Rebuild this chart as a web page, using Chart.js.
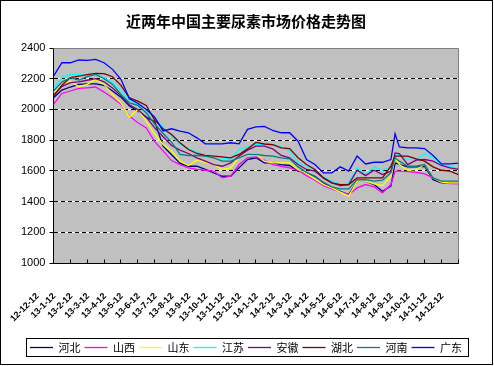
<!DOCTYPE html>
<html>
<head>
<meta charset="utf-8">
<script src="https://cdn.jsdelivr.net/npm/chart.js@4"></script>
<style>
  html, body { margin: 0; padding: 0; background: #fff; }
</style>
</head>
<body>
<canvas id="c" width="494" height="366"></canvas>
<script>
// x positions in half-month steps (0 = 12-12-12, 48 = 14-12-12)
const pos = [0,1,2,3,4,5,6,7,8,9,10,11,12,13,14,15,16,17,18,19,20,21,22,23,24,25,26,27,28,29,30,31,32,33,34,35,36,37,38,39,40,40.5,41,42,43,44,45,46,47,48]

const monthLabels = ['12-12-12','13-1-12','13-2-12','13-3-12','13-4-12','13-5-12','13-6-12','13-7-12','13-8-12','13-9-12','13-10-12','13-11-12','13-12-12',
  '14-1-12','14-2-12','14-3-12','14-4-12','14-5-12','14-6-12','14-7-12','14-8-12','14-9-12','14-10-12','14-11-12','14-12-12']

const yTicks = [1000, 1200, 1400, 1600, 1800, 2000, 2200, 2400]

const names = ['河北', '山西', '山东', '江苏', '安徽', '湖北', '河南', '广东']

const hebei = [2076,2126,2146,2163,2167,2167,2157,2120,2080,2022,1990,1950,1920,1761,1705,1650,1630,1630,1609,1587,1565,1565,1620,1674,1685,1652,1652,1641,1635,1598,1587,1565,1522,1489,1467,1446,1533,1533,1511,1467,1500,1652,1641,1626,1626,1630,1543,1522,1522,1522]
const shanxi = [2033,2104,2120,2137,2141,2146,2113,2076,2033,1957,1913,1880,1790,1730,1667,1641,1620,1609,1604,1598,1554,1565,1641,1685,1691,1670,1641,1630,1620,1604,1569,1539,1504,1483,1463,1446,1489,1511,1496,1457,1511,1598,1598,1595,1590,1580,1554,1526,1517,1515]
const shandong = [2109,2163,2185,2148,2163,2196,2163,2098,2043,1950,2000,1924,1840,1772,1728,1663,1635,1670,1656,1641,1609,1620,1685,1707,1711,1663,1652,1652,1652,1609,1583,1548,1511,1489,1461,1435,1533,1533,1515,1504,1565,1685,1641,1604,1609,1641,1554,1526,1522,1522]
const jiangsu = [2135,2207,2228,2228,2222,2235,2207,2174,2120,2065,2033,2000,1945,1880,1826,1772,1743,1722,1696,1691,1685,1674,1739,1757,1772,1772,1772,1757,1728,1656,1630,1609,1561,1533,1511,1522,1620,1576,1626,1604,1626,1696,1707,1678,1674,1713,1685,1641,1630,1613]
const anhui = [2090,2150,2175,2180,2190,2200,2180,2140,2090,2030,2000,1950,1880,1822,1765,1735,1713,1685,1663,1641,1630,1652,1696,1735,1761,1761,1743,1700,1685,1641,1609,1598,1554,1522,1504,1511,1604,1569,1604,1576,1598,1717,1713,1641,1670,1674,1663,1635,1620,1609]
const hubei = [2087,2157,2207,2217,2226,2235,2233,2213,2157,2076,2054,2026,1930,1874,1837,1783,1739,1713,1700,1696,1691,1685,1707,1743,1785,1775,1770,1750,1745,1685,1641,1609,1554,1522,1511,1511,1554,1554,1554,1554,1630,1696,1696,1696,1678,1663,1626,1604,1598,1576]
const henan = [2120,2178,2207,2191,2213,2228,2200,2163,2098,2043,2026,1978,1905,1843,1787,1707,1700,1700,1696,1685,1663,1663,1685,1707,1707,1700,1696,1685,1678,1626,1591,1561,1526,1496,1483,1483,1543,1543,1533,1539,1587,1685,1663,1630,1630,1641,1554,1533,1533,1533]
const guangdong = [2217,2304,2304,2322,2320,2326,2304,2261,2196,2070,2040,2000,1950,1860,1874,1859,1848,1815,1776,1776,1776,1783,1776,1870,1887,1890,1863,1848,1848,1793,1674,1641,1587,1587,1626,1598,1696,1645,1656,1656,1674,1841,1756,1750,1750,1745,1700,1645,1645,1650]

const series = [hebei, shanxi, shandong, jiangsu, anhui, hubei, henan, guangdong]
const colors = ['#000080', '#ff00ff', '#ffff00', '#00ffff', '#800080', '#800000', '#008080', '#0000ff']

const align = p => Math.round(p - 0.5) + 0.5

const frame = {
    id: 'frame',
    beforeDraw(chart) {
        const {ctx, chartArea: a} = chart
        ctx.save()
        ctx.fillStyle = '#fff'
        ctx.fillRect(0, 0, chart.width, chart.height)
        ctx.fillStyle = '#c0c0c0'
        ctx.fillRect(a.left, a.top, a.right - a.left, a.bottom - a.top)
        // white under the dashed grid lines
        const y = chart.scales.y
        ctx.strokeStyle = '#fff'
        ctx.lineWidth = 1
        y.ticks.forEach(t => {
            const p = align(y.getPixelForValue(t.value))
            ctx.beginPath()
            ctx.moveTo(a.left, p)
            ctx.lineTo(a.right, p)
            ctx.stroke()
        })
        ctx.restore()
    },
    afterDraw(chart) {
        const {ctx, chartArea: a} = chart
        ctx.save()
        ctx.lineWidth = 1
        // plot border top / right
        ctx.strokeStyle = '#808080'
        ctx.beginPath()
        ctx.moveTo(align(a.left), align(a.top))
        ctx.lineTo(align(a.right), align(a.top))
        ctx.lineTo(align(a.right), align(a.bottom))
        ctx.stroke()
        // x tick marks inside
        const x = chart.scales.x
        ctx.strokeStyle = '#000'
        x.ticks.forEach(t => {
            const p = align(x.getPixelForValue(t.value))
            ctx.beginPath()
            ctx.moveTo(p, align(a.bottom))
            ctx.lineTo(p, align(a.bottom) - 4)
            ctx.stroke()
        })
        // legend box
        const boxes = chart.legend.legendHitBoxes
        if (boxes && boxes.length) {
            const l = Math.min(...boxes.map(b => b.left)) - 4
            const r = Math.max(...boxes.map(b => b.left + b.width)) + 6
            const t = Math.min(...boxes.map(b => b.top)) - 4
            const bt = Math.max(...boxes.map(b => b.top + b.height)) + 3
            ctx.strokeStyle = '#000'
            ctx.strokeRect(align(l), align(t), Math.round(r - l), Math.round(bt - t))
        }
        // outer border
        ctx.strokeRect(0.5, 0.5, chart.width - 2, chart.height - 2)
        ctx.restore()
    }
}

new Chart(document.getElementById('c'), {
    type: 'line',
    data: {
        datasets: series.map((s, i) => ({
            label: names[i],
            data: s.map((v, k) => ({x: pos[k], y: v})),
            borderColor: colors[i],
            backgroundColor: colors[i],
            borderWidth: 1.3,
            pointRadius: 0,
            pointStyle: 'line',
            tension: 0,
            order: series.length - i
        }))
    },
    options: {
        responsive: false,
        devicePixelRatio: 1,
        animation: false,
        layout: { padding: { left: 0, right: 2, top: 0, bottom: 3 } },
        scales: {
            x: {
                type: 'linear',
                min: 0,
                max: 48,
                afterFit: s => { s.height = 75 },
                afterBuildTicks: s => { s.ticks = monthLabels.map((l, i) => ({value: i * 2})) },
                grid: { drawOnChartArea: false, drawTicks: false },
                border: { color: '#000', width: 1 },
                ticks: {
                    autoSkip: false,
                    minRotation: 45,
                    maxRotation: 45,
                    padding: 28,
                    labelOffset: -16,
                    color: '#000',
                    font: { family: '"Liberation Sans", Arial', size: 9, weight: 'bold' },
                    callback: v => monthLabels[v / 2]
                }
            },
            y: {
                min: 1000,
                max: 2400,
                afterFit: s => { s.width = 53 },
                afterBuildTicks: s => { s.ticks = yTicks.map(v => ({value: v})) },
                grid: { color: '#000', tickColor: '#000', tickLength: 4 },
                border: { color: '#000', width: 1, dash: [4, 3] },
                ticks: {
                    padding: 4,
                    color: '#000',
                    font: { family: '"Liberation Sans", Arial', size: 11 },
                    callback: v => String(v)
                }
            },
            spacer: {
                position: 'right',
                afterFit: s => { s.width = 32 },
                grid: { display: false },
                border: { display: false },
                ticks: { display: false }
            }
        },
        plugins: {
            title: {
                display: true,
                text: '近两年中国主要尿素市场价格走势图',
                color: '#000',
                font: { family: '"Noto Sans CJK SC"', size: 15, weight: 'bold' },
                padding: { top: 12, bottom: 18 }
            },
            legend: {
                position: 'bottom',
                labels: {
                    usePointStyle: true,
                    pointStyleWidth: 23,
                    padding: 4,
                    color: '#000',
                    font: { family: '"Noto Sans CJK SC"', size: 11 },
                    sort: (a, b) => a.datasetIndex - b.datasetIndex
                }
            },
            tooltip: { enabled: false }
        }
    },
    plugins: [frame]
})
</script>
</body>
</html>
